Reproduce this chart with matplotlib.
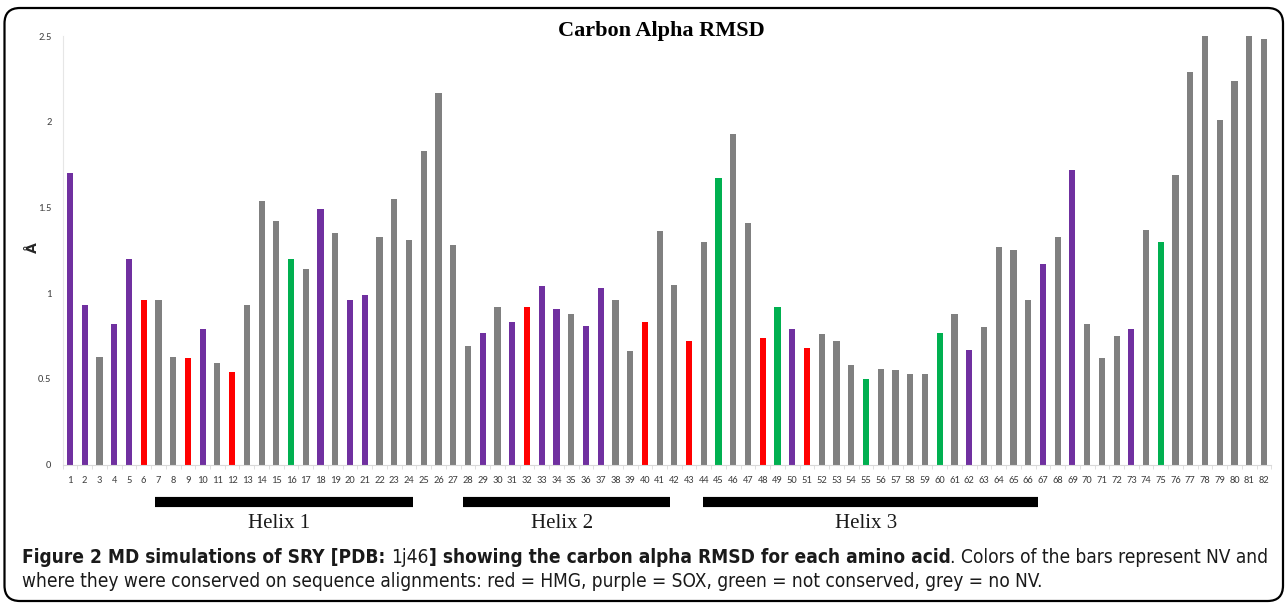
import matplotlib
matplotlib.use('Agg')
import matplotlib.pyplot as plt
from matplotlib.patches import FancyBboxPatch
import matplotlib.transforms as mtransforms
import numpy as np

# ---------------------------------------------------------------------
# 数据: 每个氨基酸的 C-alpha RMSD (Å)
# ---------------------------------------------------------------------
residues = list(range(1, 83))
rmsd = [
    1.70, 0.93, 0.63, 0.82, 1.20, 0.96, 0.96, 0.63, 0.62, 0.79,
    0.59, 0.54, 0.93, 1.54, 1.42, 1.20, 1.14, 1.49, 1.35, 0.96,
    0.99, 1.33, 1.55, 1.31, 1.83, 2.17, 1.28, 0.69, 0.77, 0.92,
    0.83, 0.92, 1.04, 0.91, 0.88, 0.81, 1.03, 0.96, 0.66, 0.83,
    1.36, 1.05, 0.72, 1.30, 1.67, 1.93, 1.41, 0.74, 0.92, 0.79,
    0.68, 0.76, 0.72, 0.58, 0.50, 0.56, 0.55, 0.53, 0.53, 0.77,
    0.88, 0.67, 0.80, 1.27, 1.25, 0.96, 1.17, 1.33, 1.72, 0.82,
    0.62, 0.75, 0.79, 1.37, 1.30, 1.69, 2.29, 2.50, 2.01, 2.24,
    2.50, 2.48,
]

# 颜色分组
hmg_res = [6, 9, 12, 32, 40, 43, 48, 51]
sox_res = [1, 2, 4, 5, 10, 18, 20, 21, 29, 31, 33, 34, 36, 37, 50, 62, 67, 69, 73]
notcons_res = [16, 45, 49, 55, 60, 75]

# 螺旋区段 (残基坐标)
helix_labels = ['Helix 1', 'Helix 2', 'Helix 3']
helix_start = [6.75, 27.65, 43.95]
helix_end = [24.25, 41.70, 66.70]

colors = {
    'hmg': '#FF0000',
    'sox': '#7030A0',
    'notcons': '#00B050',
    'grey': '#808080',
}
bar_colors = []
for r in residues:
    if r in hmg_res:
        bar_colors.append(colors['hmg'])
    elif r in sox_res:
        bar_colors.append(colors['sox'])
    elif r in notcons_res:
        bar_colors.append(colors['notcons'])
    else:
        bar_colors.append(colors['grey'])

# ---------------------------------------------------------------------
W, H = 1288, 604
fig = plt.figure(figsize=(W / 100, H / 100), dpi=100)
fig.patch.set_facecolor('white')

tick_font = ['Carlito', 'Liberation Sans', 'DejaVu Sans']
ax = fig.add_axes([62.6 / W, 1 - 464.5 / H, (1271.4 - 62.6) / W, (464.5 - 36) / H])
ax.bar(residues, rmsd, width=0.42, color=bar_colors, zorder=2)
ax.set_xlim(0.5, 82.5)
ax.set_ylim(0, 2.5)

ax.set_xticks(residues)
ax.set_xticklabels([str(r) for r in residues], fontsize=7.6, color='#404040',
                   family=tick_font)
ax.set_xticks(np.arange(0.5, 83, 1), minor=True)
ax.tick_params(axis='x', which='major', length=0, pad=8)
ax.tick_params(axis='x', which='minor', length=3, color='#D9D9D9', direction='out')
ax.set_yticks([0, 0.5, 1, 1.5, 2, 2.5])
ax.set_yticklabels(['0', '0.5', '1', '1.5', '2', '2.5'], fontsize=7.6, color='#404040',
                   family=tick_font)
ax.tick_params(axis='y', length=0, pad=8)
for s in ['top', 'right']:
    ax.spines[s].set_visible(False)
ax.spines['left'].set_color('#E6E6E6')
ax.spines['bottom'].set_color('#D9D9D9')
ax.spines['left'].set_linewidth(0.8)
ax.spines['bottom'].set_linewidth(0.8)

# 标题 / y 轴标签
fig.text(661 / W, 1 - 31 / H, 'Carbon Alpha RMSD', ha='center', va='center',
         fontsize=16, weight='bold', family=['Liberation Serif', 'DejaVu Serif'])
fig.text(33 / W, 1 - 248 / H, 'Å', ha='center', va='center', rotation=90,
         fontsize=10, weight='bold', color='#262626')

# 螺旋标记
trans = mtransforms.blended_transform_factory(ax.transData, fig.transFigure)
for lab, x0, x1 in zip(helix_labels, helix_start, helix_end):
    ax.plot([x0, x1], [1 - 502 / H, 1 - 502 / H], color='black', lw=7.3,
            solid_capstyle='butt', transform=trans, clip_on=False)
    ax.text((x0 + x1) / 2 - 0.3, 1 - 523 / H, lab, transform=trans, ha='center',
            va='center', fontsize=15, family=['Liberation Serif', 'DejaVu Serif'],
            color='#1a1a1a')

# 外框
frame = FancyBboxPatch((4.5 / W, 1 - 601 / H), (1283 - 4.5) / W, (601 - 8) / H,
                       boxstyle='round,pad=0,rounding_size=0.012',
                       transform=fig.transFigure, facecolor='none',
                       edgecolor='black', linewidth=1.6, mutation_aspect=W / H)
fig.patches.append(frame)

# 图注 (粗细混排)
renderer = fig.canvas.get_renderer()
cap_font = ['DejaVu Sans']
cap_stretch = 'condensed'

line1 = [
    ('Figure 2 MD simulations of SRY [PDB:', 'bold', True),
    ('1j46', 'normal', False),
    ('] showing the carbon alpha RMSD for each amino acid', 'bold', False),
    ('. Colors of the bars represent NV and', 'normal', False),
]
line2 = [
    ('where they were conserved on sequence alignments: red = HMG, purple = SOX, '
     'green = not conserved, grey = no NV.', 'normal', False),
]


def space_width(weight, size):
    a = fig.text(0, 0, 'a a', fontsize=size, weight=weight, family=cap_font,
                 stretch=cap_stretch)
    b = fig.text(0, 0, 'aa', fontsize=size, weight=weight, family=cap_font,
                 stretch=cap_stretch)
    w = a.get_window_extent(renderer).width - b.get_window_extent(renderer).width
    a.remove()
    b.remove()
    return w / W


def put_line(segs, x, y, size):
    made = []
    for txt, weight, gap in segs:
        t = fig.text(x, y, txt, fontsize=size, weight=weight, family=cap_font,
                     stretch=cap_stretch, va='baseline', ha='left', color='#1a1a1a')
        made.append(t)
        bb = t.get_window_extent(renderer)
        x = bb.x1 / W + (space_width(weight, size) if gap else 0)
    return made, x


# 第一行宽度对齐到参考图 (22 -> ~1270 px)
cap_size = 10.0
made, xe = put_line(line1, 22 / W, 1 - 563 / H, cap_size)
for t in made:
    t.remove()
cap_size = cap_size * (1242 / W) / (xe - 22 / W)
put_line(line1, 22 / W, 1 - 563 / H, cap_size)
put_line(line2, 22 / W, 1 - 587 / H, cap_size)

fig.savefig('out.png', dpi=100, facecolor='white')
plt.close()
